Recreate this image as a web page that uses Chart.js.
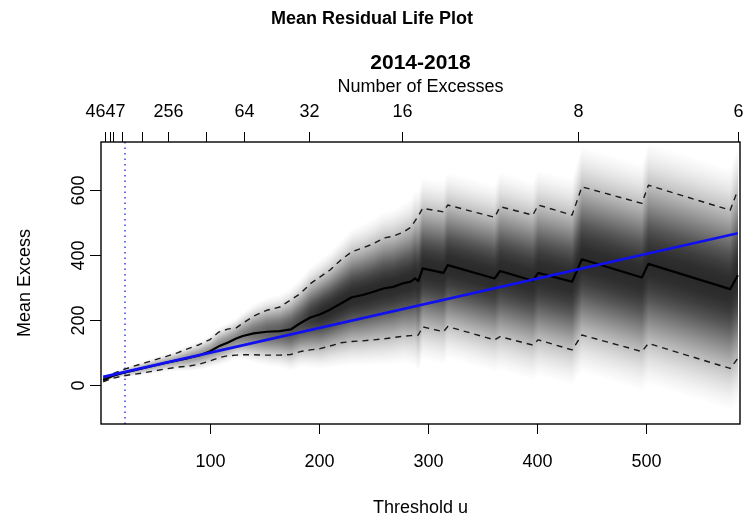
<!DOCTYPE html>
<html>
<head>
<meta charset="utf-8">
<title>Mean Residual Life Plot</title>
<script src="https://cdn.jsdelivr.net/npm/chart.js@4/dist/chart.umd.min.js"></script>
<style>
  html, body { margin: 0; padding: 0; background: #fff; }
  #wrap { width: 744px; height: 521px; }
</style>
</head>
<body>
<div id="wrap"><canvas id="mrl" width="744" height="521"></canvas></div>
<script>
// threshold grid and the empirical mean excess with its 95% band
const thresholds = [2, 10, 20, 30, 40, 50, 60, 70, 80, 90, 100, 108, 116, 124, 130, 140, 152, 164, 174, 183,
  192, 201, 210, 220, 230, 240, 250, 259, 268, 277, 284, 288, 291, 295, 314, 318, 361, 366, 396, 401,
  432, 441, 496, 502, 577, 584];
const meanExcess = [15, 27, 37, 45, 53, 61, 69, 76, 83, 91, 104, 119, 130, 143, 151, 159, 164, 166, 171, 191,
  208, 218, 232, 251, 270, 277, 287, 297, 302, 313, 318, 328, 320, 359, 345, 369, 328, 351, 321, 345,
  318, 387, 331, 373, 295, 338];
const upperCI = [20, 34, 47, 58, 68, 78, 88, 99, 112, 124, 140, 163, 172, 176, 190, 212, 230, 240, 262, 282,
  312, 333, 354, 385, 410, 422, 435, 452, 458, 470, 485, 505, 520, 544, 533, 554, 516, 549, 523, 554,
  523, 610, 559, 615, 538, 600];
const lowerCI = [10, 20, 28, 33, 38, 44, 50, 55, 58, 64, 74, 84, 90, 92, 93, 93, 92, 92, 94, 103,
  108, 112, 120, 130, 134, 136, 139, 142, 146, 150, 152, 153, 154, 179, 164, 180, 139, 149, 123, 139,
  108, 154, 103, 128, 51, 82];

// straight-line fit of mean excess above the chosen threshold
const fitThresholds = [2, 584];
const fitMeanExcess = [25, 467];
const chosenThreshold = 22;

// axes
const xLimits = [0, 586];
const yLimits = [-120, 748];
const xTicks = [100, 200, 300, 400, 500];
const yTicks = [0, 200, 400, 600];
const excessCounts = [4647, 4096, 2048, 1024, 512, 256, 128, 64, 32, 16, 8, 6];
const excessCountThresholds = [3.7, 8.3, 11, 19.3, 37.6, 61.5, 96.3, 131.2, 190.8, 276, 437.6, 584.4];

const FONT = '"Liberation Sans", Arial, Helvetica, sans-serif';

const toPoints = (xs, ys) => xs.map((x, i) => ({ x, y: ys[i] }));

// mean and half-width of the band at threshold u (straight between grid points, as the lines are drawn)
function bandAt(u) {
  let i = 0;
  while (i < thresholds.length - 2 && u > thresholds[i + 1]) i++;
  const t = Math.min(1, Math.max(0, (u - thresholds[i]) / (thresholds[i + 1] - thresholds[i])));
  const m = meanExcess[i] + t * (meanExcess[i + 1] - meanExcess[i]);
  const w0 = (upperCI[i] - lowerCI[i]) / 2;
  const w1 = (upperCI[i + 1] - lowerCI[i + 1]) / 2;
  return { m, hw: w0 + t * (w1 - w0) };
}

// grey density shading: one column per pixel, darkest at the mean, gone by 3 standard errors
const ZMAX = 3;
const densityShade = {
  id: 'densityShade',
  beforeDatasetsDraw(chart) {
    const { ctx, chartArea: area, scales: { x, y } } = chart;
    const uMin = thresholds[0];
    const uMax = thresholds[thresholds.length - 1];
    ctx.save();
    ctx.beginPath();
    ctx.rect(area.left, area.top, area.width, area.height);
    ctx.clip();

    const pStart = Math.floor(x.getPixelForValue(uMin));
    const pEnd = Math.ceil(x.getPixelForValue(uMax));
    for (let px = pStart; px < pEnd; px++) {
      const u = x.getValueForPixel(px + 0.5);
      const { m, hw } = bandAt(u);
      const se = hw / 1.96;
      const top = y.getPixelForValue(m + ZMAX * se);
      const bot = y.getPixelForValue(m - ZMAX * se);
      const peak = Math.min(0.84, 0.25 + hw / 190);

      const grad = ctx.createLinearGradient(0, top, 0, bot);
      const steps = 20;
      for (let k = 0; k <= steps; k++) {
        const z = -ZMAX + (2 * ZMAX * k) / steps;
        const taper = 1 - Math.pow(Math.abs(z) / ZMAX, 6);
        const a = peak * Math.exp(-(z * z) / (2 * 1.3 * 1.3)) * taper;
        grad.addColorStop(k / steps, `rgba(0,0,0,${a.toFixed(3)})`);
      }
      ctx.fillStyle = grad;
      ctx.fillRect(px, top, 1, bot - top);
    }
    ctx.restore();
  },
};

// base-graphics style frame: box, outward ticks, titles
const baseFrame = {
  id: 'baseFrame',
  afterDraw(chart) {
    const { ctx, chartArea: area, scales: { x, y } } = chart;
    ctx.save();
    ctx.strokeStyle = '#000';
    ctx.fillStyle = '#000';

    ctx.lineWidth = 1.4;
    ctx.strokeRect(area.left, area.top, area.right - area.left, area.bottom - area.top);

    ctx.lineWidth = 1;
    ctx.font = `18px ${FONT}`;
    ctx.textAlign = 'center';

    // bottom axis
    xTicks.forEach((v) => {
      const px = Math.round(x.getPixelForValue(v)) + 0.5;
      ctx.beginPath();
      ctx.moveTo(px, area.bottom);
      ctx.lineTo(px, area.bottom + 10);
      ctx.stroke();
      ctx.fillText(String(v), px, 467);
    });

    // top axis: number of excesses, labels dropped where they would collide
    let lastRight = -Infinity;
    const gap = ctx.measureText('m').width;
    excessCounts.forEach((n, i) => {
      const px = Math.round(x.getPixelForValue(excessCountThresholds[i])) + 0.5;
      ctx.beginPath();
      ctx.moveTo(px, area.top);
      ctx.lineTo(px, area.top - 10);
      ctx.stroke();
      const label = String(n);
      const w = ctx.measureText(label).width;
      if (px - w / 2 >= lastRight + gap) {
        ctx.fillText(label, px, 117);
        lastRight = px + w / 2;
      }
    });

    // left axis, labels parallel to the axis
    yTicks.forEach((v) => {
      const py = Math.round(y.getPixelForValue(v)) + 0.5;
      ctx.beginPath();
      ctx.moveTo(area.left, py);
      ctx.lineTo(area.left - 11, py);
      ctx.stroke();
      ctx.save();
      ctx.translate(83.5, py);
      ctx.rotate(-Math.PI / 2);
      ctx.fillText(String(v), 0, 0);
      ctx.restore();
    });

    const midX = (area.left + area.right) / 2;
    const midY = (area.top + area.bottom) / 2;

    ctx.fillText('Threshold u', midX, 513);
    ctx.fillText('Number of Excesses', midX, 92);

    ctx.save();
    ctx.translate(29.5, midY);
    ctx.rotate(-Math.PI / 2);
    ctx.fillText('Mean Excess', 0, 0);
    ctx.restore();

    ctx.font = `bold 21px ${FONT}`;
    ctx.fillText('2014-2018', midX, 69);

    ctx.font = `bold 18px ${FONT}`;
    ctx.fillText('Mean Residual Life Plot', chart.width / 2, 24);

    ctx.restore();
  },
};

new Chart(document.getElementById('mrl'), {
  type: 'line',
  data: {
    datasets: [
      {
        label: 'fit',
        data: toPoints(fitThresholds, fitMeanExcess),
        borderColor: '#1010f0',
        borderWidth: 2.6,
        order: 0,
      },
      {
        label: 'mean excess',
        data: toPoints(thresholds, meanExcess),
        borderColor: '#000',
        borderWidth: 2.2,
        order: 1,
      },
      {
        label: 'upper 95%',
        data: toPoints(thresholds, upperCI),
        borderColor: '#1a1a1a',
        borderWidth: 1.4,
        borderDash: [6, 5],
        order: 2,
      },
      {
        label: 'lower 95%',
        data: toPoints(thresholds, lowerCI),
        borderColor: '#1a1a1a',
        borderWidth: 1.4,
        borderDash: [6, 5],
        order: 2,
      },
      {
        label: 'threshold',
        data: [{ x: chosenThreshold, y: yLimits[0] }, { x: chosenThreshold, y: yLimits[1] }],
        borderColor: '#2020e0',
        borderWidth: 1.3,
        borderDash: [1.5, 4],
        order: 3,
      },
    ],
  },
  options: {
    responsive: false,
    animation: false,
    events: [],
    devicePixelRatio: 1,
    layout: { padding: { left: 101, right: 4, top: 142, bottom: 97 } },
    elements: {
      point: { radius: 0 },
      line: { tension: 0, fill: false, borderJoinStyle: 'round' },
    },
    plugins: {
      legend: { display: false },
      tooltip: { enabled: false },
    },
    scales: {
      x: { type: 'linear', min: xLimits[0], max: xLimits[1], display: false },
      y: { type: 'linear', min: yLimits[0], max: yLimits[1], display: false },
    },
  },
  plugins: [densityShade, baseFrame],
});
</script>
</body>
</html>
